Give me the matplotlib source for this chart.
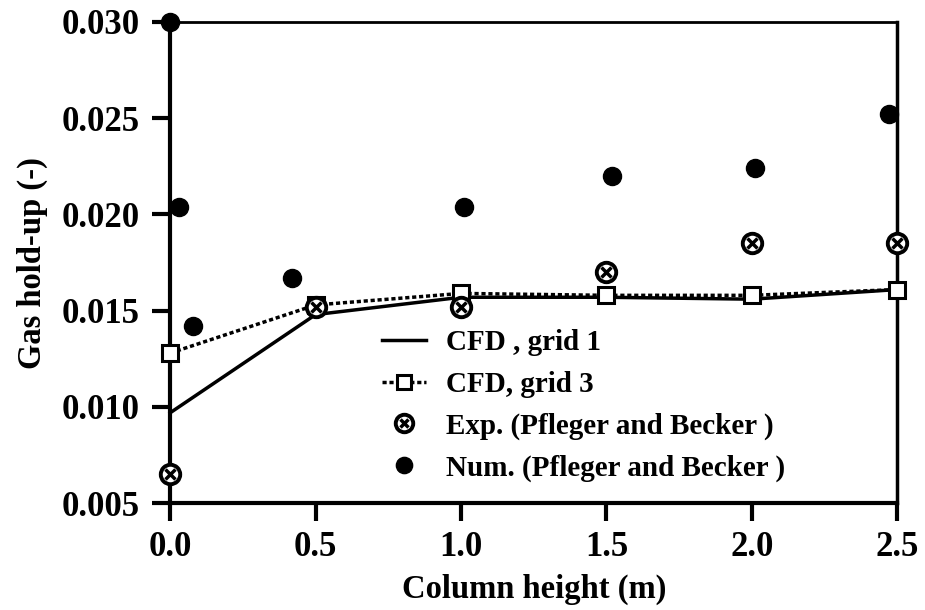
import matplotlib
matplotlib.use("Agg")
import matplotlib.pyplot as plt
from matplotlib.legend_handler import HandlerTuple

plt.rcParams['font.family'] = ['Liberation Serif', 'DejaVu Serif']
plt.rcParams['font.weight'] = 'bold'

# CFD, grid 1 (solid line)
grid1_x = [0.0, 0.5, 1.0, 1.5, 2.0, 2.5]
grid1_y = [0.0097, 0.0148, 0.0157, 0.0157, 0.0156, 0.0161]

# CFD, grid 3 (dotted line with squares)
grid3_x = [0.0, 0.5, 1.0, 1.5, 2.0, 2.5]
grid3_y = [0.0128, 0.0153, 0.0159, 0.0158, 0.0158, 0.0161]

# Experiments (Pfleger and Becker)
exp_x = [0.0, 0.5, 1.0, 1.5, 2.0, 2.5]
exp_y = [0.0065, 0.0152, 0.0152, 0.0170, 0.0185, 0.0185]

# Numerical (Pfleger and Becker)
num_x = [0.0, 0.03, 0.08, 0.42, 1.01, 1.52, 2.01, 2.47]
num_y = [0.0300, 0.0204, 0.0142, 0.0167, 0.0204, 0.0220, 0.0224, 0.0252]

fig = plt.figure(figsize=(9.25, 6.1), dpi=100)
ax = fig.add_axes([0.184, 0.175, 0.786, 0.789])

l1, = ax.plot(grid1_x, grid1_y, color='black', lw=2.5, clip_on=False, zorder=3)
l3, = ax.plot(grid3_x, grid3_y, color='black', lw=2.5, linestyle=(0, (1.2, 0.8)),
              marker='s', ms=11, mfc='white', mec='black', mew=2.2,
              clip_on=False, zorder=4)
e1, = ax.plot(exp_x, exp_y, linestyle='none', marker='o', ms=14, mfc='white',
              mec='black', mew=2.8, clip_on=False, zorder=5)
e2, = ax.plot(exp_x, exp_y, linestyle='none', marker='x', ms=7, mec='black',
              mew=2.5, clip_on=False, zorder=6)
n1, = ax.plot(num_x, num_y, linestyle='none', marker='o', ms=13, mfc='black',
              mec='black', clip_on=False, zorder=5)

ax.set_xlim(0, 2.5)
ax.set_ylim(0.005, 0.030)
ax.set_xticks([0.0, 0.5, 1.0, 1.5, 2.0, 2.5])
ax.set_yticks([0.005, 0.010, 0.015, 0.020, 0.025, 0.030])
ax.set_xticklabels(['0.0', '0.5', '1.0', '1.5', '2.0', '2.5'])
ax.set_yticklabels(['0.005', '0.010', '0.015', '0.020', '0.025', '0.030'])
ax.tick_params(direction='out', length=13, width=3, labelsize=25)
ax.tick_params(axis='y', pad=9)
ax.tick_params(axis='x', pad=7)
for s in ax.spines.values():
    s.set_linewidth(3)
ax.spines['top'].set_linewidth(2)
ax.spines['right'].set_linewidth(2.5)

ax.set_xlabel('Column height (m)', fontsize=23.5, fontweight='bold', labelpad=7)
ax.set_ylabel('Gas hold-up (-)', fontsize=23.5, fontweight='bold', labelpad=10)

leg = ax.legend([l1, l3, (e1, e2), n1],
                ['CFD , grid 1', 'CFD, grid 3', 'Exp. (Pfleger and Becker )',
                 'Num. (Pfleger and Becker )'],
                handler_map={tuple: HandlerTuple(ndivide=1)},
                loc='lower left', bbox_to_anchor=(0.255, -0.01), frameon=False,
                prop={'size': 21, 'weight': 'bold'}, handlelength=1.5,
                labelspacing=0.5, handletextpad=0.7, markerscale=0.9)

fig.savefig('out.png', dpi=100)
